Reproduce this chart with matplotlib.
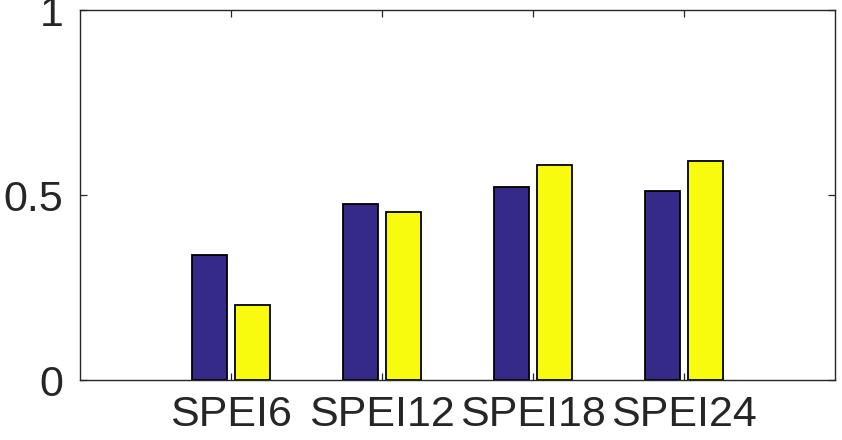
import matplotlib
matplotlib.use("Agg")
import matplotlib.pyplot as plt
import numpy as np

categories = ["SPEI6", "SPEI12", "SPEI18", "SPEI24"]
series_a = [0.337, 0.476, 0.522, 0.510]
series_b = [0.203, 0.455, 0.581, 0.593]
yticks = [0, 0.5, 1]
ytick_labels = ["0", "0.5", "1"]

plt.rcParams['font.family'] = ['Liberation Sans', 'DejaVu Sans']

fig = plt.figure(figsize=(8.42, 4.4), dpi=100)
ax = fig.add_axes([80/842, 60/440, 755/842, 370/440])

x = np.arange(1, len(categories) + 1)
w = 0.23
off = 0.143
ax.bar(x - off, series_a, width=w, color="#352a87", edgecolor="black", linewidth=1.3)
ax.bar(x + off, series_b, width=w, color="#f9fb0e", edgecolor="black", linewidth=1.3)

ax.set_xlim(0, 5)
ax.set_ylim(0, 1)
ax.set_xticks(x)
ax.set_xticklabels(categories)
ax.set_yticks(yticks)
ax.set_yticklabels(ytick_labels)

for s in ax.spines.values():
    s.set_color("#262626")
    s.set_linewidth(1.0)

ax.tick_params(axis="both", direction="in", length=5, width=0.9, color="#262626",
               labelsize=31, labelcolor="#262626", top=True, right=True)
ax.tick_params(axis="x", pad=11)
ax.tick_params(axis="y", pad=12)

fig.savefig("out.png", dpi=100)
